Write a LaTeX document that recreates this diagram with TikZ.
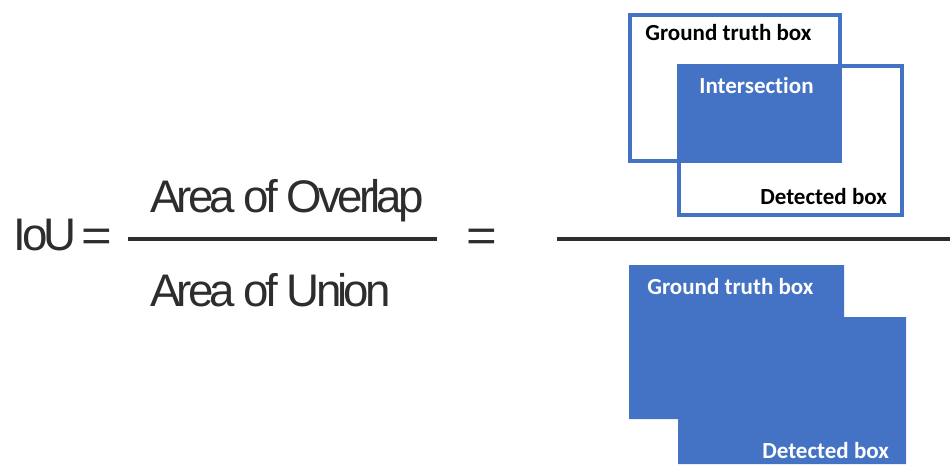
\documentclass[tikz,border=0pt]{standalone}
\usepackage{fontspec}
\setmainfont{Liberation Sans}
\newfontfamily\calibri[Ligatures={NoCommon,NoRare}]{Carlito}
\definecolor{ioublue}{RGB}{68,114,196}
\definecolor{inkgray}{RGB}{45,45,48}

\begin{document}
\begin{tikzpicture}[x=0.02cm, y=-0.02cm,
        formula/.style={text=inkgray, inner sep=0pt, font=\fontsize{26}{30}\selectfont\addfontfeature{LetterSpace=-8.5}},
        boxlabel/.style={inner sep=0pt, anchor=west, font=\calibri\bfseries\fontsize{13.1}{15}\selectfont},
        outline/.style={draw=ioublue, line width=2.3pt},
        barline/.style={draw=inkgray, line width=2pt}
    ]
        \useasboundingbox (0,0) rectangle (950,464);

        % left side: IoU = overlap / union
        \node[formula, anchor=base west] (iou) at (13,250) {IoU};
        \node[formula, xscale=1.15] (eqa) at (97,240) {=};
        \node[formula, anchor=base west] (overlap) at (150,212) {Area of Overlap};
        \node[formula, anchor=base west] (union) at (150,306) {Area of Union};
        \draw[barline] (128,239) -- (437,239);
        \node[formula, xscale=1.15] (eqb) at (482,240) {=};
        \draw[barline] (557,239) -- (950,239);

        % numerator: the two boxes and their intersection
        \draw[outline] (630,15) rectangle (840,161);
        \draw[outline] (679,66) rectangle (902,215);
        \fill[ioublue] (677,64) rectangle (842,163);
        \node[boxlabel] (gttop) at (645,33) {Ground truth box};
        \node[boxlabel, text=white] (inter) at (699,86) {Intersection};
        \node[boxlabel] (dettop) at (760,197) {Detected box};

        % denominator: the union of both boxes
        \fill[ioublue] (629,265) -- (844,265) -- (844,317) -- (906,317)
            -- (906,464) -- (678,464) -- (678,419) -- (629,419) -- cycle;
        \node[boxlabel, text=white] (gtbot) at (647,287) {Ground truth box};
        \node[boxlabel, text=white] (detbot) at (762,450) {Detected box};
    \end{tikzpicture}
\end{document}
